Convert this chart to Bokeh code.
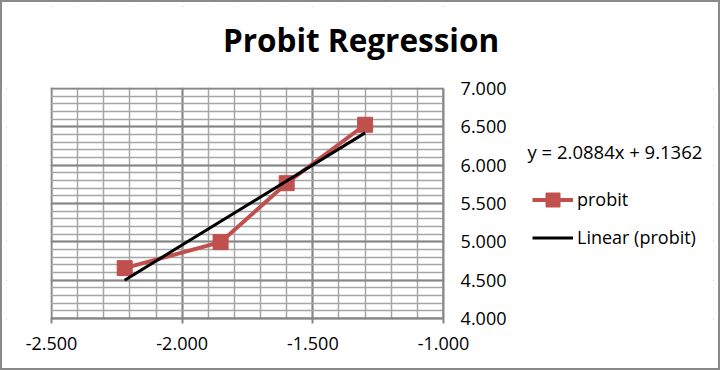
from bokeh.plotting import figure
from bokeh.models import (Range1d, LinearAxis, SingleIntervalTicker, NumeralTickFormatter,
                          Grid, Legend, LegendItem, Label, BoxAnnotation)
from bokeh.embed import file_html
from bokeh.resources import INLINE

# ---- data ----
log_dose = [-2.22, -1.853, -1.60, -1.30]
probit = [4.657, 4.996, 5.765, 6.527]
trend_slope = 2.0884
trend_intercept = 9.1362
equation_text = "y = 2.0884x + 9.1362"
title_text = "Probit Regression"
x_min, x_max = -2.5, -1.0
y_min, y_max = 4.0, 7.0

FONT = "Open Sans"
GRID_MAJOR = "#868686"
GRID_MINOR = "#a6a6a6"
RED = "#C0504D"

# plot-area geometry (pixels): data area is 392 x 230; frame extended to hold legend, title, labels
DATA_W, DATA_H = 392, 230
PAD_LEFT, PAD_RIGHT = 45, 270
PAD_TOP, PAD_BOTTOM = 82, 50
FRAME_W = DATA_W + PAD_LEFT + PAD_RIGHT
FRAME_H = DATA_H + PAD_TOP + PAD_BOTTOM
x_per_px = (x_max - x_min) / DATA_W
y_per_px = (y_max - y_min) / DATA_H
x_start = x_min - PAD_LEFT * x_per_px
x_end = x_max + PAD_RIGHT * x_per_px
y_start = y_min - PAD_BOTTOM * y_per_px
y_end = y_max + PAD_TOP * y_per_px

p = figure(width=716, height=366, output_backend="svg", toolbar_location=None, title=None,
           x_range=Range1d(x_start, x_end), y_range=Range1d(y_start, y_end),
           x_axis_location=None, y_axis_location=None,
           frame_width=FRAME_W, frame_height=FRAME_H,
           min_border_left=4, min_border_top=4, min_border_right=5, min_border_bottom=0)
p.styles = {"border": "2px solid #8a8a8a"}
p.outline_line_color = None
p.background_fill_color = "white"
p.border_fill_color = "white"

xt = SingleIntervalTicker(interval=0.5, num_minor_ticks=5)
yt = SingleIntervalTicker(interval=0.5, num_minor_ticks=5)

xg = Grid(dimension=0, ticker=xt, bounds=(x_min, x_max), grid_line_color=GRID_MAJOR, grid_line_width=2,
          minor_grid_line_color=GRID_MINOR, minor_grid_line_width=1.5, level="underlay")
yg = Grid(dimension=1, ticker=yt, bounds=(y_min, y_max), grid_line_color=GRID_MAJOR, grid_line_width=2,
          minor_grid_line_color=GRID_MINOR, minor_grid_line_width=1.5, level="underlay")
p.add_layout(xg)
p.add_layout(yg)

# white masks outside the data area (grid lines span the full frame)
eps_y = 1.0 * y_per_px
eps_x = 1.0 * x_per_px
p.add_layout(BoxAnnotation(bottom=y_max + eps_y, fill_color="white", fill_alpha=1,
                           line_color=None, level="underlay"))
p.add_layout(BoxAnnotation(top=y_min - eps_y, fill_color="white", fill_alpha=1,
                           line_color=None, level="underlay"))
p.add_layout(BoxAnnotation(left=x_max, fill_color="white", fill_alpha=1,
                           line_color=None, level="underlay"))
p.add_layout(BoxAnnotation(right=x_min - eps_x, fill_color="white", fill_alpha=1,
                           line_color=None, level="underlay"))

# x axis drawn at y = 4.0 inside the extended frame, ticks and labels below it
xaxis = LinearAxis(ticker=xt, bounds=(x_min, x_max), fixed_location=y_min,
                   formatter=NumeralTickFormatter(format="0.000"))
xaxis.axis_line_color = GRID_MAJOR
xaxis.axis_line_width = 2
xaxis.major_tick_line_color = GRID_MAJOR
xaxis.major_tick_line_width = 2
xaxis.major_tick_out = 0
xaxis.major_tick_in = 5
xaxis.minor_tick_line_color = None
xaxis.major_label_text_font = FONT
xaxis.major_label_text_font_size = "18px"
xaxis.major_label_text_color = "black"
xaxis.major_label_standoff = -35
p.add_layout(xaxis, "above")

# y axis drawn at x = -1.0, labels to its right
yaxis = LinearAxis(ticker=yt, bounds=(y_min, y_max), fixed_location=x_max,
                   formatter=NumeralTickFormatter(format="0.000"))
yaxis.axis_line_color = GRID_MAJOR
yaxis.axis_line_width = 2
yaxis.major_tick_line_color = None
yaxis.minor_tick_line_color = None
yaxis.major_tick_out = 0
yaxis.major_tick_in = 0
yaxis.major_label_text_font = FONT
yaxis.major_label_text_font_size = "18px"
yaxis.major_label_text_color = "black"
yaxis.major_label_standoff = -67
p.add_layout(yaxis, "left")

r_line = p.line(log_dose, probit, line_color=RED, line_width=4)
r_mark = p.scatter(log_dose, probit, marker="square", size=15, fill_color=RED, line_color=RED)

tx = [min(log_dose), max(log_dose)]
ty = [trend_slope * v + trend_intercept for v in tx]
r_trend = p.line(tx, ty, line_color="black", line_width=3)

legend = Legend(items=[LegendItem(label="probit", renderers=[r_line, r_mark]),
                       LegendItem(label="Linear (probit)", renderers=[r_trend])],
                location=(481 + PAD_LEFT, 63.5 + PAD_BOTTOM), orientation="vertical",
                glyph_width=41, glyph_height=35, label_height=20, spacing=3,
                label_standoff=4, padding=0, margin=0,
                border_line_color=None, background_fill_alpha=0,
                label_text_font=FONT, label_text_font_size="18px", label_text_color="black")
p.add_layout(legend, "center")

eq = Label(x=476 + PAD_LEFT, y=167 + PAD_BOTTOM, x_units="screen", y_units="screen", text=equation_text,
           text_font=FONT, text_font_size="18.5px", text_color="black",
           text_align="left", text_baseline="middle")
p.add_layout(eq)

title = Label(x=309.5 + PAD_LEFT, y=279 + PAD_BOTTOM, x_units="screen", y_units="screen", text=title_text,
              text_font=FONT, text_font_size="31.5px", text_font_style="bold",
              text_color="black", text_align="center", text_baseline="alphabetic")
p.add_layout(title)

open("out.html", "w").write(file_html(p, INLINE))
